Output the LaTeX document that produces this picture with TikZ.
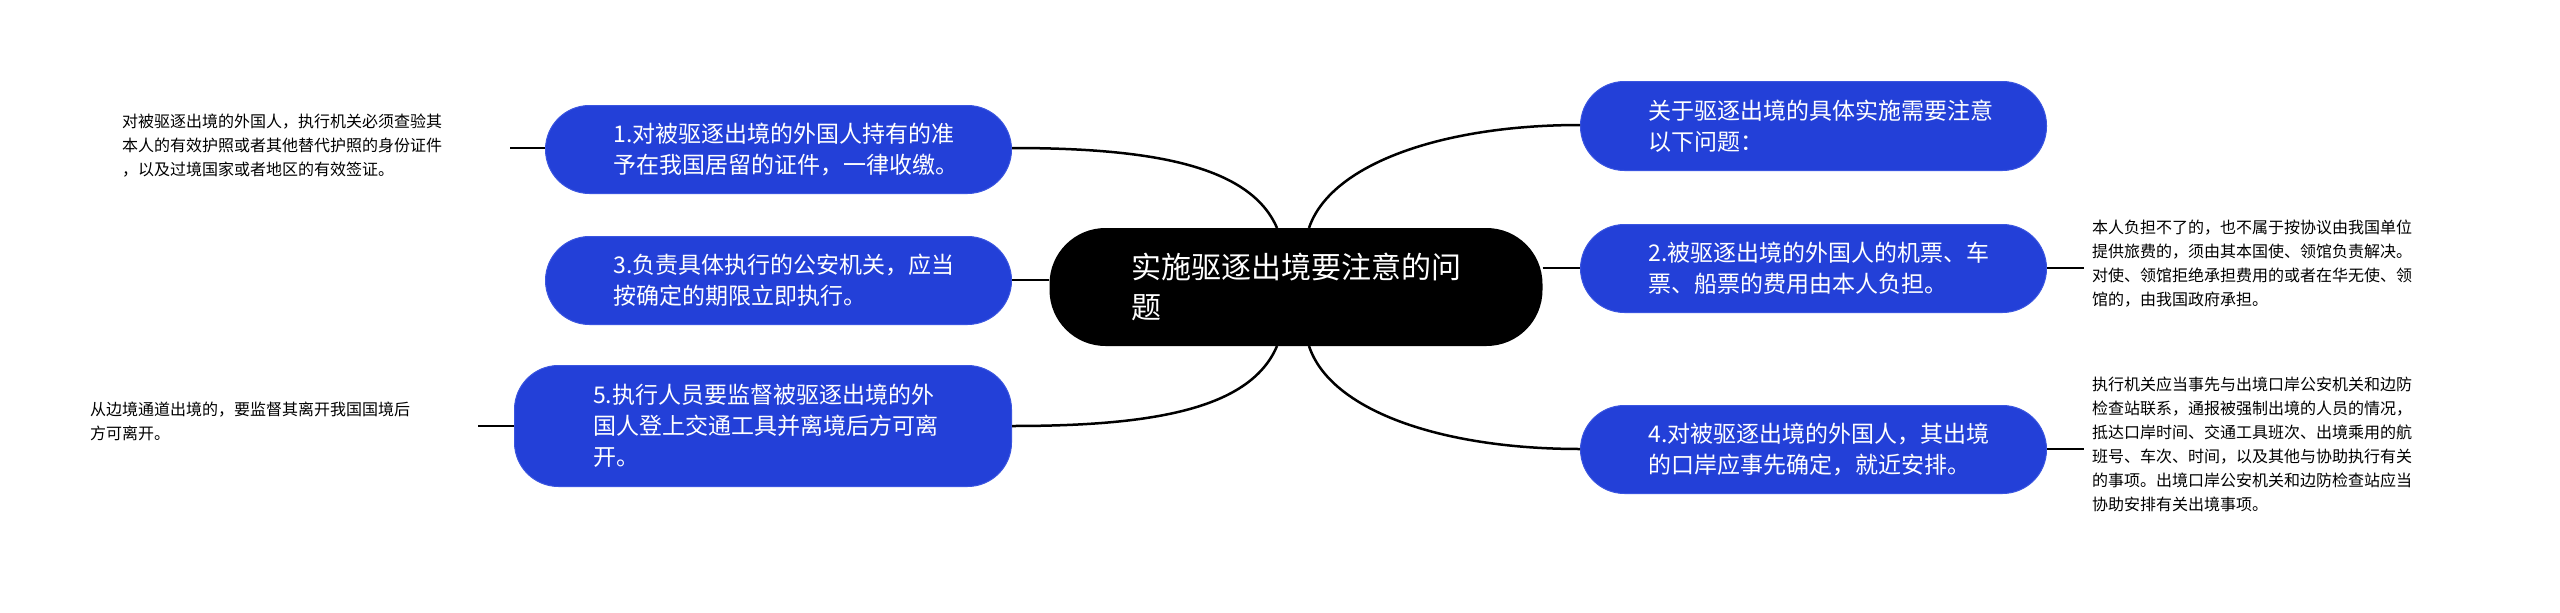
\documentclass[tikz,border=0pt]{standalone}
\usepackage{fontspec}
\setmainfont{Noto Sans CJK SC}
\begin{document}
\begin{tikzpicture}[x=1pt,y=-1pt,
  blue/.style={fill=bboxc,draw=bboxd,line width=1pt,rounded corners=44pt,text=white,font=\fontsize{23}{31}\selectfont,align=left,anchor=north west,inner sep=0pt},
  note/.style={font=\fontsize{16}{24}\selectfont,align=left,anchor=north west,inner sep=0pt},
  link/.style={line width=2.5pt,draw=black}]
\definecolor{bboxc}{HTML}{2340D8}
\definecolor{bboxd}{HTML}{3A55E0}
\useasboundingbox (0,0) rectangle (2560,613);
\fill[white] (0,0) rectangle (2560,613);
% central
\node[fill=black,rounded corners=56pt,minimum width=493pt,minimum height=118pt,inner sep=0pt,text=white,font=\fontsize{30}{40}\selectfont,align=left] (c) at (1296,287) {实施驱逐出境要注意的问\\题};
% blue boxes
\node[blue,minimum width=466pt,minimum height=88pt,text width=420pt] (n1) at (545,105) {\hspace*{45pt}1.对被驱逐出境的外国人持有的准\\\hspace*{45pt}予在我国居留的证件，一律收缴。};
\node[blue,minimum width=466pt,minimum height=88pt,text width=420pt] (n3) at (545,236) {\hspace*{45pt}3.负责具体执行的公安机关，应当\\\hspace*{45pt}按确定的期限立即执行。};
\node[blue,minimum width=497pt,minimum height=121pt,text width=460pt] (n5) at (514,365) {\hspace*{60pt}5.执行人员要监督被驱逐出境的外\\\hspace*{60pt}国人登上交通工具并离境后方可离\\\hspace*{60pt}开。};
\node[blue,minimum width=466pt,minimum height=89pt,text width=420pt] (t0) at (1580,81) {\hspace*{45pt}关于驱逐出境的具体实施需要注意\\\hspace*{45pt}以下问题：};
\node[blue,minimum width=466pt,minimum height=88pt,text width=420pt] (n2) at (1580,224) {\hspace*{45pt}2.被驱逐出境的外国人的机票、车\\\hspace*{45pt}票、船票的费用由本人负担。};
\node[blue,minimum width=466pt,minimum height=88pt,text width=420pt] (n4) at (1580,405) {\hspace*{45pt}4.对被驱逐出境的外国人，其出境\\\hspace*{45pt}的口岸应事先确定，就近安排。};
% notes
\node[note] (d1) at (122,114) {对被驱逐出境的外国人，执行机关必须查验其\\本人的有效护照或者其他替代护照的身份证件\\，以及过境国家或者地区的有效签证。};
\node[note] (d5) at (90,402) {从边境通道出境的，要监督其离开我国国境后\\方可离开。};
\node[note] (d2) at (2092,220) {本人负担不了的，也不属于按协议由我国单位\\提供旅费的，须由其本国使、领馆负责解决。\\对使、领馆拒绝承担费用的或者在华无使、领\\馆的，由我国政府承担。};
\node[note] (d4) at (2092,377) {执行机关应当事先与出境口岸公安机关和边防\\检查站联系，通报被强制出境的人员的情况，\\抵达口岸时间、交通工具班次、出境乘用的航\\班号、车次、时间，以及其他与协助执行有关\\的事项。出境口岸公安机关和边防检查站应当\\协助安排有关出境事项。};
% connectors
\coordinate (cl) at (1277,287);
\coordinate (cr) at (1309,287);
\draw[link] (1277,228) .. controls (1250,165) and (1150,148) .. (n1.east |- 0,148);
\draw[link] (n3.east |- 0,280) -- (c.west |- 0,280);
\draw[link] (1277,346) .. controls (1250,410) and (1150,426) .. (n5.east |- 0,426);
\draw[link] (1309,228) .. controls (1330,165) and (1440,125) .. (t0.west |- 0,125);
\draw[link] (c.east |- 0,268) -- (n2.west |- 0,268);
\draw[link] (1309,346) .. controls (1330,410) and (1440,449) .. (n4.west |- 0,449);
\draw[link] (n1.west |- 0,148) -- (510,148);
\draw[link] (n5.west |- 0,426) -- (478,426);
\draw[link] (n2.east |- 0,268) -- (2084,268);
\draw[link] (n4.east |- 0,449) -- (2084,449);
\end{tikzpicture}
\end{document}
